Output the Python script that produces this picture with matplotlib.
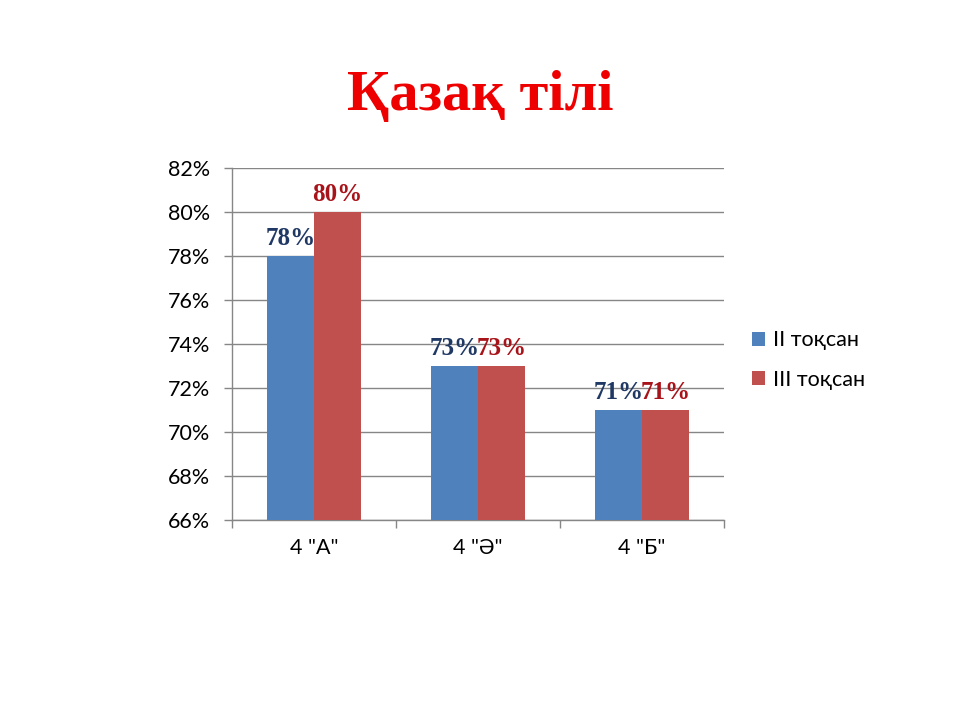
import numpy as np
import matplotlib
matplotlib.use('Agg')
import matplotlib.pyplot as plt
from matplotlib.ticker import FuncFormatter, FixedLocator

classes = ['4 "А"', '4 "Ә"', '4 "Б"']
series_names = ['II тоқсан', 'III тоқсан']
q2 = [78, 73, 71]
q3 = [80, 73, 71]
y_ticks = [66, 68, 70, 72, 74, 76, 78, 80, 82]

bar_colors = ['#4F81BD', '#C0504D']
label_colors = ['#1F3864', '#A8131A']
grid_color = '#868686'

fig = plt.figure(figsize=(9.6, 7.2), dpi=100)
ax = fig.add_axes([232 / 960, 1 - 520 / 720, 492 / 960, 352 / 720])

x = np.arange(len(classes))
w = 0.285
for i, (vals, name) in enumerate(zip([q2, q3], series_names)):
    pos = x + (i - 0.5) * w
    bars = ax.bar(pos, vals, w, color=bar_colors[i], label=name, zorder=3)
    for b, v in zip(bars, vals):
        ax.annotate(f'{v}%', (b.get_x() + b.get_width() / 2, v),
                    xytext=(0, 4), textcoords='offset points',
                    ha='center', va='bottom', fontsize=18, fontweight='bold',
                    family='Liberation Serif', color=label_colors[i], zorder=4)

ax.set_ylim(66, 82)
ax.set_yticks(y_ticks)
ax.yaxis.set_major_formatter(FuncFormatter(lambda v, p: f'{v:.0f}%'))
ax.set_xlim(-0.5, 2.5)
ax.set_xticks(x)
ax.set_xticklabels(classes)
ax.xaxis.set_minor_locator(FixedLocator([-0.5, 0.5, 1.5, 2.5]))
ax.tick_params(axis='x', which='major', length=0, pad=13, labelsize=15.5)
ax.tick_params(axis='x', which='minor', length=6, color=grid_color, width=1)
ax.tick_params(axis='y', length=6, color=grid_color, width=1, labelsize=15.5, pad=10)
for lbl in ax.get_xticklabels() + ax.get_yticklabels():
    lbl.set_family('Lato')

ax.grid(axis='y', color=grid_color, linewidth=1, zorder=0)
ax.set_axisbelow(True)
for s in ['top', 'right']:
    ax.spines[s].set_visible(False)
for s in ['left', 'bottom']:
    ax.spines[s].set_color(grid_color)
    ax.spines[s].set_linewidth(1)

leg = fig.legend(loc='center left', bbox_to_anchor=(0.763, 0.5), frameon=False,
                 prop={'family': 'Lato', 'size': 15.5}, handlelength=0.6,
                 handleheight=0.6, handletextpad=0.4, labelspacing=0.9)

fig.text(0.5, 0.866, 'Қазақ тілі', ha='center', va='center', color='#EE0000',
         fontsize=42, fontweight='bold', family='Liberation Serif')

fig.savefig('out.png', dpi=100)
